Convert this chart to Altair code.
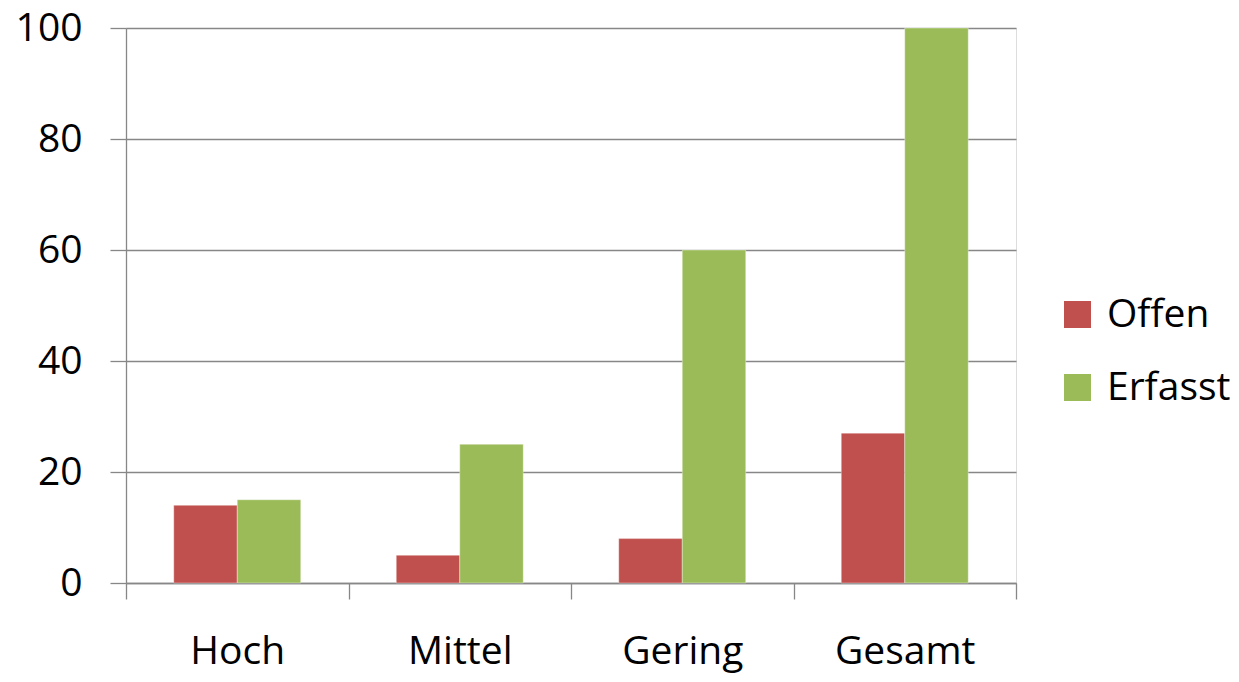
import altair as alt
import pandas as pd

categories = ["Hoch", "Mittel", "Gering", "Gesamt"]
series = ["Offen", "Erfasst"]
offen = [14, 5, 8, 27]
erfasst = [15, 25, 60, 100]
colors = ["#C0504D", "#9BBB59"]

rows = []
for c, o, e in zip(categories, offen, erfasst):
    rows.append({"Kategorie": c, "Serie": "Offen", "Wert": o})
    rows.append({"Kategorie": c, "Serie": "Erfasst", "Wert": e})
df = pd.DataFrame(rows)

FONT = "Open Sans"
GRID = "#878787"

chart = alt.Chart(df).mark_bar(stroke="white", strokeWidth=0.6, strokeOpacity=0.6).encode(
    x=alt.X("Kategorie:N", sort=categories,
            scale=alt.Scale(paddingInner=0, paddingOuter=0),
            axis=alt.Axis(title=None, labelAngle=0, labelFont=FONT, labelFontSize=39,
                          labelColor="black", labelPadding=33, tickSize=16,
                          tickBand="extent", tickColor=GRID, domainColor=GRID,
                          tickWidth=1.3, domainWidth=1.3)),
    xOffset=alt.XOffset("Serie:N", sort=series,
                        scale=alt.Scale(paddingInner=0, paddingOuter=0.752)),
    y=alt.Y("Wert:Q", scale=alt.Scale(domain=[0, 100], nice=False),
            axis=alt.Axis(title=None, values=[0, 20, 40, 60, 80, 100], labelFont=FONT,
                          labelFontSize=39, labelColor="black", labelPadding=28,
                          tickSize=16, tickColor=GRID, domainColor=GRID,
                          gridColor=GRID, grid=True, tickWidth=1.3, domainWidth=1.3,
                          gridWidth=1.3)),
    color=alt.Color("Serie:N", sort=series,
                    scale=alt.Scale(domain=series, range=colors),
                    legend=alt.Legend(title=None, orient="none", legendX=932, legendY=267,
                                      symbolType="square", symbolSize=729,
                                      symbolStrokeWidth=0, labelFont=FONT,
                                      labelFontSize=39, labelColor="black",
                                      labelOffset=10, rowPadding=33, padding=0,
                                      labelLimit=300)),
).properties(
    width=890, height=555,
    padding={"left": 118, "top": 20, "right": 215, "bottom": 91},
    autosize=alt.AutoSizeParams(type="none"),
).configure_view(stroke=None).configure(background="white")

chart.save("out.html", embed_options={"renderer": "svg", "actions": False})
